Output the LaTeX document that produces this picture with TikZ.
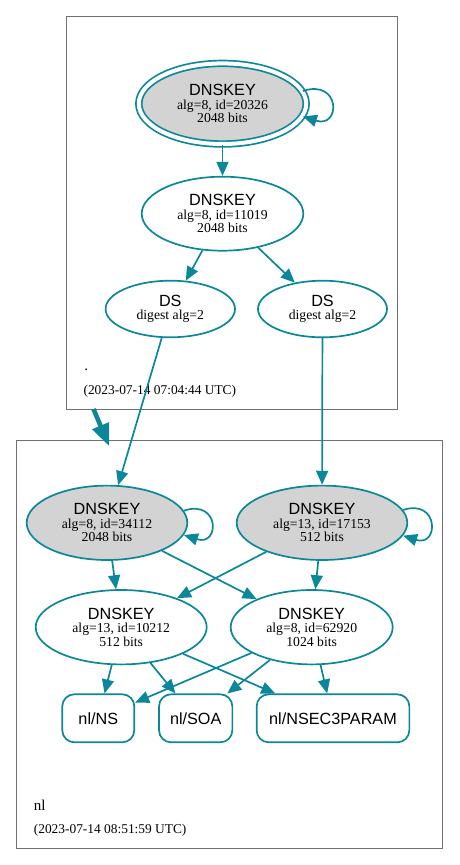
\documentclass[tikz,border=0pt]{standalone}
\usepackage{fontspec}
\setmainfont{Liberation Serif}
\setsansfont{Liberation Sans}
\usetikzlibrary{arrows.meta,positioning,shapes.geometric}
\definecolor{dnsedge}{HTML}{0A879A}
\definecolor{keyfill}{HTML}{D3D3D3}
\definecolor{zoneline}{HTML}{707070}
\newcommand{\rrname}[1]{{\sffamily\fontsize{16.2}{16.2}\selectfont #1}}

\begin{document}
\begin{tikzpicture}[x=1pt,y=1pt,>={Triangle[length=14pt,width=12pt]},
                    on grid,line width=1.7pt,
                    key/.style={ellipse,draw=dnsedge,inner sep=0pt,align=center,
                                font=\fontsize{13.7}{13.4}\selectfont},
                    sep/.style={key,fill=keyfill},
                    rrset/.style={rectangle,rounded corners=12pt,draw=dnsedge,inner sep=0pt,
                                  minimum height=48pt,font=\sffamily\fontsize{16.2}{16.2}\selectfont},
                    zone/.style={rectangle,draw=zoneline,line width=0.9pt,inner sep=0pt},
                    zonename/.style={anchor=base west,inner sep=0pt,font=\fontsize{15}{15}\selectfont},
                    zonedate/.style={anchor=base west,inner sep=0pt,font=\fontsize{13.4}{13.4}\selectfont},
                    sig/.style={color=dnsedge,->}]
 \useasboundingbox (0,0) rectangle (459,-865);

 \node[zone,minimum width=331pt,minimum height=393pt] (rootzone) at (231.5,-212.5) {};
 \node[zone,minimum width=426.7pt,minimum height=408.3pt] (nlzone) at (229.35,-644.15) {};

 \node[sep,double=white,double distance=4pt,minimum width=167.4pt,minimum height=80.6pt]
       (rootksk) at (222.5,-103.7) {\rrname{DNSKEY}\\alg=8, id=20326\\2048 bits};
 \node[key,minimum width=161.6pt,minimum height=74pt] (rootzsk) [below=110pt of rootksk]
       {\rrname{DNSKEY}\\alg=8, id=11019\\2048 bits};
 \node[key,minimum width=129.4pt,minimum height=56.6pt] (rootds1)
       [below left=95.3pt and 52.2pt of rootzsk] {\rrname{DS}\\digest alg=2};
 \node[key,minimum width=129pt,minimum height=56.6pt] (rootds2)
       [below right=95.3pt and 100pt of rootzsk] {\rrname{DS}\\digest alg=2};

 \node[zonename] (rootname) at (83.5,-370) {.};
 \node[zonedate] (rootdate) at (82.7,-394) {(2023-07-14 07:04:44 UTC)};

 \node[sep,minimum width=160.6pt,minimum height=74.4pt] (nlksk1)
       [below left=213.8pt and 63.3pt of rootds1] {\rrname{DNSKEY}\\alg=8, id=34112\\2048 bits};
 \node[sep,minimum width=170.6pt,minimum height=74.4pt] (nlksk2)
       [right=215pt of nlksk1] {\rrname{DNSKEY}\\alg=13, id=17153\\512 bits};
 \node[key,minimum width=171pt,minimum height=74.4pt] (nlzsk1)
       [below right=104.4pt and 14.2pt of nlksk1] {\rrname{DNSKEY}\\alg=13, id=10212\\512 bits};
 \node[key,minimum width=162pt,minimum height=74.4pt] (nlzsk2)
       [below left=104.4pt and 10.3pt of nlksk2] {\rrname{DNSKEY}\\alg=8, id=62920\\1024 bits};

 \node[rrset,minimum width=72pt] (nlns) [below left=91.1pt and 22.9pt of nlzsk1] {nl/NS};
 \node[rrset,minimum width=73.3pt] (nlsoa) [right=97.4pt of nlns] {nl/SOA};
 \node[rrset,minimum width=152.7pt] (nlnsec) [right=137.3pt of nlsoa] {nl/NSEC3PARAM};

 \node[zonename] (nlname) at (33,-810) {nl};
 \node[zonedate] (nldate) at (33,-833.3) {(2023-07-14 08:51:59 UTC)};

 % delegation
 \coordinate (delegfrom) at (93.5,-409);
 \coordinate (delegto) at (109,-446);
 \draw[dnsedge,line width=4.6pt,-{Triangle[length=22pt,width=17pt]}] (delegfrom) -- (delegto);

 \path[sig] (rootksk.9) edge[out=18,in=-18,distance=40pt] (rootksk.-9)
            (rootksk) edge (rootzsk)
            (rootzsk) edge (rootds1)
                      edge (rootds2)
            (rootds1) edge (nlksk1)
            (rootds2) edge (nlksk2);

 \path[sig] (nlksk1.9) edge[out=18,in=-18,distance=38pt] (nlksk1.-9)
            (nlksk2.9) edge[out=18,in=-18,distance=38pt] (nlksk2.-9)
            (nlksk1) edge (nlzsk1)
                     edge (nlzsk2)
            (nlksk2) edge (nlzsk1)
                     edge (nlzsk2)
            (nlzsk1) edge (nlns)
                     edge (nlsoa)
                     edge (nlnsec)
            (nlzsk2) edge (nlns)
                     edge (nlsoa)
                     edge (nlnsec);

\end{tikzpicture}
\end{document}
